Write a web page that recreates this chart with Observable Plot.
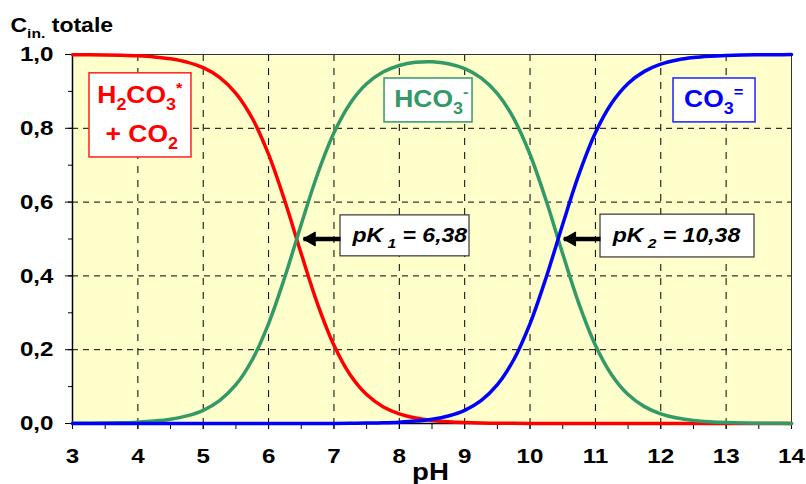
<!DOCTYPE html>
<html>
<head>
<meta charset="utf-8">
<script src="https://cdn.jsdelivr.net/npm/d3@7"></script>
<script src="https://cdn.jsdelivr.net/npm/@observablehq/plot@0.6"></script>
<style>
  body { margin: 0; background: #fff; }
  #chart svg { display: block; }
</style>
</head>
<body>
<div id="chart"></div>
<script>
// ---- data ----
const pH = [3,3.25,3.5,3.75,4,4.25,4.5,4.75,5,5.25,5.5,5.75,6,6.25,6.5,6.75,7,7.25,7.5,7.75,8,8.25,8.5,8.75,9,9.25,9.5,9.75,10,10.25,10.5,10.75,11,11.25,11.5,11.75,12,12.25,12.5,12.75,13,13.25,13.5,13.75,14];
const h2co3 = [0.9996,0.9993,0.9988,0.9979,0.9963,0.9934,0.9884,0.9795,0.9642,0.9380,0.8949,0.8272,0.7291,0.6022,0.4598,0.3236,0.2120,0.1314,0.0784,0.0456,0.0261,0.0148,0.0083,0.0047,0.0026,0.0014,0.0008,0.0004,0.0002,0.0001,0,0,0,0,0,0,0,0,0,0,0,0,0,0,0];
const hco3 = [0.0004,0.0007,0.0012,0.0021,0.0037,0.0066,0.0116,0.0205,0.0358,0.0620,0.1051,0.1728,0.2709,0.3978,0.5402,0.6762,0.7877,0.8680,0.9206,0.9524,0.9703,0.9788,0.9802,0.9750,0.9617,0.9367,0.8942,0.8269,0.7290,0.6021,0.4598,0.3237,0.2121,0.1315,0.0784,0.0457,0.0262,0.0149,0.0084,0.0048,0.0027,0.0015,0.0009,0.0005,0.0003];
const co3 = [0,0,0,0,0,0,0,0,0,0,0,0,0,0,0.0001,0.0001,0.0003,0.0006,0.0011,0.0020,0.0036,0.0065,0.0115,0.0204,0.0357,0.0619,0.1051,0.1728,0.2708,0.3978,0.5402,0.6763,0.7879,0.8685,0.9216,0.9543,0.9738,0.9851,0.9916,0.9952,0.9973,0.9985,0.9991,0.9995,0.9997];

const seriesNames = ["H2CO3", "HCO3", "CO3"];
const seriesColors = ["#FF0000", "#339966", "#0000FF"];

const xTicks = [3,4,5,6,7,8,9,10,11,12,13,14];
const xMinorTicks = [3,3.5,4,4.5,5,5.5,6,6.5,7,7.5,8,8.5,9,9.5,10,10.5,11,11.5,12,12.5,13,13.5,14];
const yTicks = [0,0.2,0.4,0.6,0.8,1.0];
const yMinorTicks = [0,0.1,0.2,0.3,0.4,0.5,0.6,0.7,0.8,0.9,1.0];

const titleText = "C_{in.} totale";
const xLabel = "pH";

// species label boxes (data coordinates)
const labelBoxes = [
  {x1: 3.26, x2: 4.82, y1: 0.721, y2: 0.949, color: "#FF2020"},
  {x1: 7.774, x2: 9.12, y1: 0.816, y2: 0.935, color: "#339966"},
  {x1: 12.195, x2: 13.45, y1: 0.816, y2: 0.935, color: "#2020FF"}
];
const speciesLabels = [
  {x: 4.03, y: 0.888, text: "H_{2}CO_{3}^{*}", color: "#FF0000"},
  {x: 4.06, y: 0.782, text: "+ CO_{2}", color: "#FF0000"},
  {x: 8.49, y: 0.877, text: "HCO_{3}^{-}", color: "#339966"},
  {x: 12.81, y: 0.877, text: "CO_{3}^{=}", color: "#0000FF"}
];
// pK annotation boxes and arrows
const pkBoxes = [
  {x1: 7.10, x2: 9.074, y1: 0.453, y2: 0.564},
  {x1: 11.078, x2: 13.434, y1: 0.450, y2: 0.566}
];
const pkLabels = [
  {x: 8.16, y: 0.508, text: "pK_{ 1} = 6,38"},
  {x: 12.24, y: 0.508, text: "pK_{ 2} = 10,38"}
];
const pkArrows = [
  {from: 7.10, to: 6.534, y: 0.5},
  {from: 11.078, to: 10.517, y: 0.5}
];

// ---- build ----
const colorOf = Object.fromEntries(seriesNames.map((s, i) => [s, seriesColors[i]]));
const columns = {H2CO3: h2co3, HCO3: hco3, CO3: co3};
const long = seriesNames.flatMap(s => pH.map((x, i) => ({pH: x, c: columns[s][i], s})));
const fmt = d => d.toFixed(1).replace(".", ",");
const FONT = "'Liberation Sans', Arial, Helvetica, sans-serif";

const plot = Plot.plot({
  width: 806,
  height: 484,
  marginLeft: 72,
  marginRight: 15,
  marginTop: 54,
  marginBottom: 61,
  style: {fontFamily: FONT, fontWeight: "bold", fontSize: "21px", background: "#fff", color: "#000", overflow: "visible"},
  x: {domain: [3, 14], axis: null},
  y: {domain: [0, 1], axis: null},
  color: {type: "identity"},
  marks: [
    Plot.frame({fill: "#FFFFCC", stroke: null}),
    Plot.gridX(xTicks, {stroke: "#000", strokeOpacity: 1, strokeWidth: 1, strokeDasharray: "7,7"}),
    Plot.gridY(yTicks, {stroke: "#000", strokeOpacity: 1, strokeWidth: 1, strokeDasharray: "6,5"}),
    Plot.frame({stroke: "#333", strokeWidth: 1}),
    Plot.axisX(xMinorTicks, {tickSize: 6, tickFormat: () => "", label: null}),
    Plot.axisX(xTicks, {tickSize: 6, tickPadding: 19, tickFormat: d => String(d), label: null, fontSize: 21}),
    Plot.axisY(yMinorTicks, {tickSize: 4, tickFormat: () => "", label: null}),
    Plot.axisY(yTicks, {tickSize: 7, tickPadding: 12, tickFormat: fmt, label: null, fontSize: 21}),
    Plot.ruleX([3], {stroke: "#000", strokeWidth: 1.5}),
    Plot.ruleY([0], {stroke: "#000", strokeWidth: 1.5}),
    Plot.rect(labelBoxes, {x1: "x1", x2: "x2", y1: "y1", y2: "y2", fill: "#fff", stroke: "color", strokeWidth: 1.5}),
    Plot.rect(pkBoxes, {x1: "x1", x2: "x2", y1: "y1", y2: "y2", fill: "#fff", stroke: "#333", strokeWidth: 1.2}),
    Plot.link(pkArrows, {x1: "from", x2: "to", y1: "y", y2: "y", stroke: "#000", strokeWidth: 4.5}),
    Plot.dot(pkArrows, {x: "to", y: "y", dx: 7.7, symbol: "triangle", rotate: -90, r: 5.2, fill: "#000", stroke: "#000", strokeWidth: 1}),
    Plot.line(long, {x: "pH", y: "c", z: "s", stroke: d => colorOf[d.s], strokeWidth: 3.5, curve: "catmull-rom"}),
    Plot.text(speciesLabels, {x: "x", y: "y", text: "text", fill: "color", fontSize: 23, fontWeight: "bold", lineAnchor: "middle"}),
    Plot.text(pkLabels, {x: "x", y: "y", text: "text", fill: "#000", fontSize: 20, fontWeight: "bold", fontStyle: "italic", lineAnchor: "middle"}),
    Plot.text([titleText], {frameAnchor: "top-left", textAnchor: "start", lineAnchor: "middle", dx: -62, dy: -29, fontSize: 20, fontWeight: "bold", fill: "#000"}),
    Plot.text([xLabel], {frameAnchor: "bottom", lineAnchor: "middle", dx: -1.5, dy: 48.5, fontSize: 24, fontWeight: "bold", fill: "#000"})
  ]
});

document.getElementById("chart").appendChild(plot);

// convert _{..} and ^{..} markup into sub/superscript tspans
const svgns = "http://www.w3.org/2000/svg";
d3.select(plot).selectAll("text").each(function () {
  const t = this.textContent;
  if (!/[_^]\{/.test(t)) return;
  const fs = parseFloat(getComputedStyle(this).fontSize) || 20;
  this.textContent = "";
  const re = /([_^])\{([^}]*)\}|([^_^]+)/g;
  let shift = 0, m;
  while ((m = re.exec(t))) {
    const ts = document.createElementNS(svgns, "tspan");
    let target = 0, size = null;
    if (m[1] === "_") { target = 0.28 * fs; size = 0.68 * fs; ts.textContent = m[2]; }
    else if (m[1] === "^") { target = -0.45 * fs; size = 0.62 * fs; ts.textContent = m[2]; }
    else { ts.textContent = m[3]; }
    if (target - shift !== 0) ts.setAttribute("dy", (target - shift).toFixed(2));
    shift = target;
    if (size) ts.setAttribute("font-size", size.toFixed(1));
    this.appendChild(ts);
  }
});

// the reference's lettering is drawn ~15% wider than normal: widen each text about its anchor
const SX = 1.15;
d3.select(plot).selectAll("text").each(function () {
  if (!this.textContent) return;
  const xa = this.getAttribute("x");
  const tx = xa != null && !isNaN(+xa) ? +xa : 0;
  if (xa != null && !isNaN(+xa)) this.removeAttribute("x");
  const tr = this.getAttribute("transform") || "";
  this.setAttribute("transform", `${tr} translate(${tx},0) scale(${SX},1)`);
});
</script>
</body>
</html>
